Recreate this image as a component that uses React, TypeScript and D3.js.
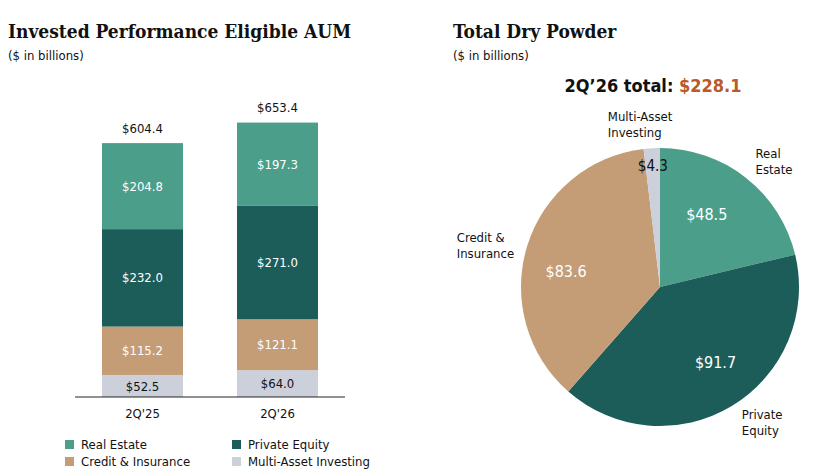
import React from 'react';
import * as d3 from 'd3';

// Invested performance eligible AUM, stacked by strategy
const quarters = ["2Q'25", "2Q'26"];
const segments = ['Multi-Asset Investing', 'Credit & Insurance', 'Private Equity', 'Real Estate'];
const multiAsset = [52.5, 64.0];
const credit = [115.2, 121.1];
const privateEquity = [232.0, 271.0];
const realEstate = [204.8, 197.3];
const totals = [604.4, 653.4];

// Dry powder split for the latest quarter
const powderNames = ['Real Estate', 'Private Equity', 'Credit & Insurance', 'Multi-Asset Investing'];
const powderValues = [48.5, 91.7, 83.6, 4.3];
const powderTotal = 228.1;

const colors: Record<string, string> = {
  'Real Estate': '#4b9e89',
  'Private Equity': '#1c5d59',
  'Credit & Insurance': '#c49c76',
  'Multi-Asset Investing': '#cbd0da',
};

const sans = "'DejaVu Sans Condensed', 'DejaVu Sans', sans-serif";
const serif = "'DejaVu Serif Condensed', 'DejaVu Serif', serif";

const W = 820;
const H = 470;

// bar chart frame
const baseY = 397;
const x = d3.scaleBand<string>().domain(quarters).range([75, 345]).paddingInner(0.4).paddingOuter(0.2);
const y = d3.scaleLinear().domain([0, 650]).range([baseY, baseY - 650 * 0.42]);

const rows = quarters.map((q, i) => ({
  quarter: q,
  'Multi-Asset Investing': multiAsset[i],
  'Credit & Insurance': credit[i],
  'Private Equity': privateEquity[i],
  'Real Estate': realEstate[i],
}));
const stacked = d3.stack<any>().keys(segments)(rows);

// pie frame
const cx = 660;
const cy = 287;
const radius = 139;
const pie = d3.pie<number>().sort(null).value(d => d);
const arcs = pie(powderValues);
const arc = d3.arc<d3.PieArcDatum<number>>().innerRadius(0).outerRadius(radius);
const valueRadius = [90, 90, 92, 121];
const valueNudge = [[-9, -2], [9, -2], [-6, 12], [0, 0]];
const nameArc = d3.arc<d3.PieArcDatum<number>>().innerRadius(172).outerRadius(172);
// nudges from the outer centroid to the left edge of each two-line name
const nameNudge = [[-11, 1], [-7, -20], [-39, 1], [-42, 1]];
const nameLines = [['Real', 'Estate'], ['Private', 'Equity'], ['Credit &', 'Insurance'], ['Multi-Asset', 'Investing']];

const fmt = (v: number) => `$${v.toFixed(1)}`;

const legendItems = [
  { name: 'Real Estate', col: 0, row: 0 },
  { name: 'Private Equity', col: 1, row: 0 },
  { name: 'Credit & Insurance', col: 0, row: 1 },
  { name: 'Multi-Asset Investing', col: 1, row: 1 },
];

export default function App() {
  return (
    <svg width={W} height={H} style={{ position: 'absolute', left: 0, top: 0, background: '#fff' }}>
      {/* titles */}
      <text x={8} y={38} fontFamily={serif} fontWeight="bold" fontSize={19} fill="#111">
        Invested Performance Eligible AUM
      </text>
      <text x={8} y={60} fontFamily={sans} fontSize={13} fill="#111">($ in billions)</text>
      <text x={453} y={38} fontFamily={serif} fontWeight="bold" fontSize={19} fill="#111">
        Total Dry Powder
      </text>
      <text x={453} y={60} fontFamily={sans} fontSize={13} fill="#111">($ in billions)</text>

      {/* stacked bars */}
      {stacked.map(layer => (
        <g key={layer.key} fill={colors[layer.key]}>
          {layer.map((d, i) => (
            <rect key={i} x={x(quarters[i])} y={y(d[1])} width={x.bandwidth()} height={y(d[0]) - y(d[1])} />
          ))}
        </g>
      ))}
      {stacked.map(layer =>
        layer.map((d, i) => (
          <text
            key={layer.key + i}
            x={x(quarters[i])! + x.bandwidth() / 2}
            y={(y(d[0]) + y(d[1])) / 2}
            dy="0.35em"
            textAnchor="middle"
            fontFamily={sans}
            fontSize={13}
            fill={layer.key === 'Multi-Asset Investing' ? '#111' : '#fff'}
          >
            {fmt(d[1] - d[0])}
          </text>
        ))
      )}
      {totals.map((t, i) => (
        <text key={i} x={x(quarters[i])! + x.bandwidth() / 2} y={y(t) - 15} dy="0.35em" textAnchor="middle"
          fontFamily={sans} fontSize={13} fill="#111">
          {fmt(t)}
        </text>
      ))}
      <line x1={75} x2={345} y1={baseY} y2={baseY} stroke="#222" strokeWidth={1} />
      {quarters.map(q => (
        <text key={q} x={x(q)! + x.bandwidth() / 2} y={413} dy="0.35em" textAnchor="middle"
          fontFamily={sans} fontSize={13} fill="#111">
          {q}
        </text>
      ))}

      {/* legend */}
      {legendItems.map(it => (
        <g key={it.name} transform={`translate(${65 + it.col * 167},${440 + it.row * 17})`}>
          <rect width={9} height={9} fill={colors[it.name]} />
          <text x={16} y={4.5} dy="0.35em" fontFamily={sans} fontSize={13} fill="#111">{it.name}</text>
        </g>
      ))}

      {/* dry powder pie */}
      <text x={653} y={86} dy="0.35em" textAnchor="middle" fontFamily={sans} fontWeight="bold" fontSize={18} fill="#111">
        2Q’26 total: <tspan fill="#b85a2a">{fmt(powderTotal)}</tspan>
      </text>
      <g transform={`translate(${cx},${cy})`}>
        {arcs.map((a, i) => (
          <path key={i} d={arc(a)!} fill={colors[powderNames[i]]} />
        ))}
        {arcs.map((a, i) => {
          const [lx, ly] = d3.arc<d3.PieArcDatum<number>>().innerRadius(valueRadius[i]).outerRadius(valueRadius[i]).centroid(a);
          return (
            <text key={i} x={lx + valueNudge[i][0]} y={ly + valueNudge[i][1]} dy="0.35em" textAnchor="middle" fontFamily={sans}
              fontSize={i === 3 ? 15 : 16} fill={i === 3 ? '#111' : '#fff'}>
              {fmt(powderValues[i])}
            </text>
          );
        })}
        {arcs.map((a, i) => {
          const [nx, ny] = nameArc.centroid(a);
          return (
            <text key={i} x={nx + nameNudge[i][0]} y={ny + nameNudge[i][1]} fontFamily={sans} fontSize={13} fill="#111">
              {nameLines[i].map((ln, j) => (
                <tspan key={j} x={nx + nameNudge[i][0]} dy={j === 0 ? '0.35em' : 16}>{ln}</tspan>
              ))}
            </text>
          );
        })}
      </g>
    </svg>
  );
}
